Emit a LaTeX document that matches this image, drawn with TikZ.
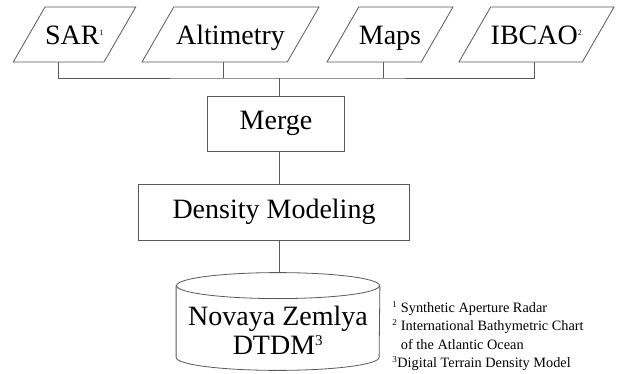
\documentclass[tikz,border=0pt]{standalone}
\usepackage{fontspec}
\setmainfont{Liberation Serif}
\usetikzlibrary{shapes.geometric}

\begin{document}
\begin{tikzpicture}[x=1pt, y=-1pt, line width=0.8pt,
    main/.style = {draw=black!65, inner sep=0pt, font=\fontsize{28}{30}\selectfont},
    data/.style = {main, trapezium, trapezium left angle=60, trapezium right angle=120, trapezium stretches body=true, text height=38pt, text depth=17pt},
    proc/.style = {main, rectangle},
    store/.style = {inner sep=0pt}]
    \useasboundingbox (0,0) rectangle (620,374);

    \node[data, minimum width=121pt] (1) at (74.5,34.5) {SAR\textsuperscript{\fontsize{8}{8}\selectfont 1}};
    \node[data, minimum width=177pt] (2) at (230.5,34.5) {Altimetry};
    \node[data, minimum width=126pt] (3) at (390,34.5) {Maps};
    \node[data, minimum width=153pt] (4) at (536.5,34.5) {IBCAO\textsuperscript{\fontsize{8}{8}\selectfont 2}};
    \node[proc, minimum width=137pt, minimum height=55pt] (5) at (276,123.5) {Merge};
    \node[proc, minimum width=271pt, minimum height=56pt] (6) at (274,212) {Density Modeling};
    \node[store, minimum width=203pt, minimum height=97pt,
          label={[font=\fontsize{28}{29}\selectfont, align=center, inner sep=0pt, yshift=-9pt]center:Novaya Zemlya\\DTDM\textsuperscript{\fontsize{15}{15}\selectfont 3}}] (7) at (278,321.5) {};
    \node[anchor=west, inner sep=0pt, align=left, font=\fontsize{14.3}{18.3}\selectfont] (8) at (392,336)
        {\textsuperscript{\fontsize{9}{9}\selectfont 1} Synthetic Aperture Radar\\
         \textsuperscript{\fontsize{9}{9}\selectfont 2} International Bathymetric Chart\\
         \phantom{\textsuperscript{\fontsize{9}{9}\selectfont 2}} of the Atlantic Ocean\\
         \textsuperscript{\fontsize{9}{9}\selectfont 3}Digital Terrain Density Model};

    % cylinder round the store node
    \draw[black!65] ([yshift=-13pt]7.north) ellipse [x radius=101.5, y radius=13];
    \draw[black!65] ([yshift=-13pt]7.north west) -- ([yshift=13pt]7.south west)
        arc [start angle=180, end angle=0, x radius=101.5, y radius=13]
        -- ([yshift=-13pt]7.north east);

    \coordinate (bus) at (279,78);
\draw[black!65] ([xshift=-16.5pt]1.south) |- (bus) -| ([xshift=-2.5pt]4.south);
\draw[black!65] ([xshift=-7pt]2.south) -- ([xshift=-7pt]2.south |- bus);
\draw[black!65] ([xshift=-7pt]3.south) -- ([xshift=-7pt]3.south |- bus);
\draw[black!65] (bus) -- (bus |- 5.north);
\draw[black!65] (5.south -| bus) -- (6.north -| bus);
\draw[black!65] (6.south -| bus) -- (bus |- 7.north);
\end{tikzpicture}
\end{document}
